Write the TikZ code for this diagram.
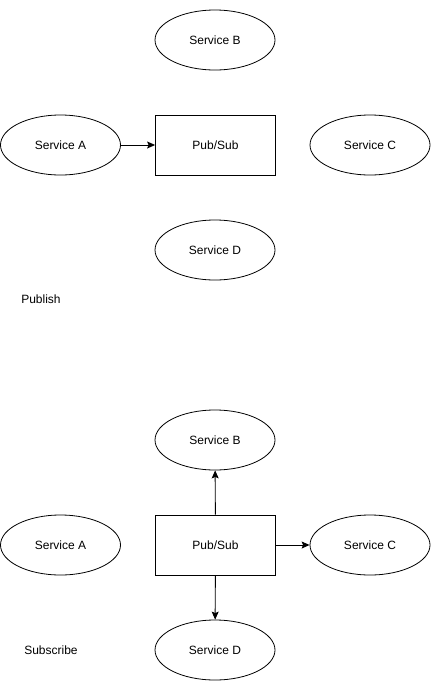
\documentclass[tikz,border=0pt]{standalone}
\usepackage{fontspec}
\setmainfont{Liberation Sans}
\usetikzlibrary{shapes.geometric,arrows.meta}
\tikzset{
service/.style={ellipse, draw, line width=0.8pt, minimum width=120pt, minimum height=60pt, inner sep=0pt, font=\fontsize{12}{14}\selectfont},
broker/.style={rectangle, draw, line width=0.8pt, minimum width=120pt, minimum height=60pt, inner sep=0pt, font=\fontsize{12}{14}\selectfont},
caption/.style={font=\fontsize{12}{14}\selectfont, inner sep=0pt},
msg/.style={-{Stealth[length=8pt,width=7pt,inset=1.5pt]}, line width=0.9pt}
}

\begin{document}
\begin{tikzpicture}[x=1pt,y=-1pt]
 \useasboundingbox (0,0) rectangle (431,691);
 % publish
 \node[service] (pubB) at (215,40) {Service B};
 \node[service] (pubA) at (60.5,145) {Service A};
 \node[broker] (pubPS) at (215.5,145) {Pub/Sub};
 \node[service] (pubC) at (370,145) {Service C};
 \node[service] (pubD) at (215,250) {Service D};
 \node[caption] (pubT) at (41,299) {Publish};
 \draw[msg] (pubA) -- (pubPS);
 % subscribe
 \node[service] (subB) at (215,440) {Service B};
 \node[service] (subA) at (60.5,545) {Service A};
 \node[broker] (subPS) at (215.5,545) {Pub/Sub};
 \node[service] (subC) at (370,545) {Service C};
 \node[service] (subD) at (215,650) {Service D};
 \node[caption] (subT) at (51,650) {Subscribe};
 \draw[msg] (subPS) -- (subB);
 \draw[msg] (subPS) -- (subC);
 \draw[msg] (subPS) -- (subD);
\end{tikzpicture}
\end{document}
